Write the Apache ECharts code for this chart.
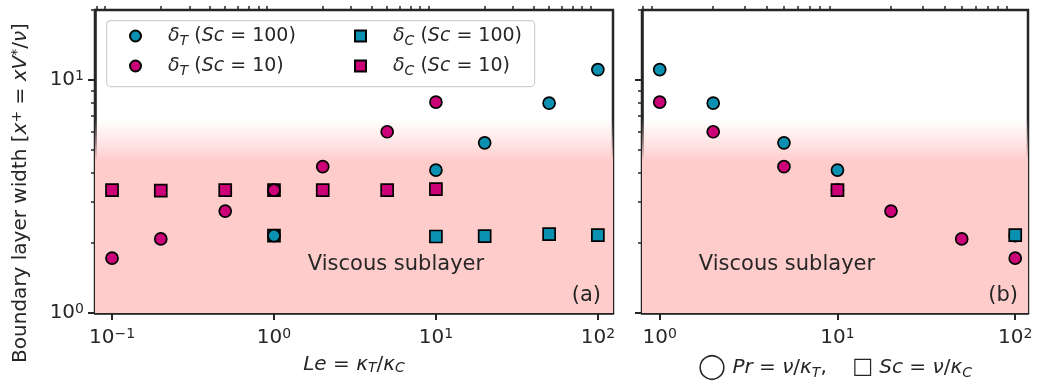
<!DOCTYPE html>
<html><head><meta charset="utf-8">
<script src="https://cdn.jsdelivr.net/npm/echarts@6/dist/echarts.min.js"></script>
<style>html,body{margin:0;padding:0;background:#fff}#c{width:1037px;height:387px}</style>
</head><body><div id="c"></div>
<script>
// ---- data ----
const leSc10 = [0.1, 0.2, 0.5, 1, 2, 5, 10];
const dTSc10 = [1.72, 2.08, 2.74, 3.37, 4.25, 6.0, 8.05];
const dCSc10 = [3.37, 3.35, 3.37, 3.37, 3.37, 3.37, 3.40];
const leSc100 = [1, 10, 20, 50, 100];
const dTSc100 = [2.15, 4.11, 5.38, 7.97, 11.1];
const dCSc100 = [2.15, 2.13, 2.14, 2.18, 2.16];
// panel (b)
const prSc100 = [1, 2, 5, 10, 100];
const dTPrSc100 = [11.1, 7.97, 5.38, 4.11, 2.15];
const prSc10 = [1, 2, 5, 10, 20, 50, 100];
const dTPrSc10 = [8.05, 6.0, 4.25, 3.37, 2.74, 2.08, 1.72];
const scValsC100 = [100];
const dCScC100 = [2.16];
const scValsC10 = [10];
const dCScC10 = [3.37];
// axes
const xaRange = [0.0785, 124];
const xbRange = [0.795, 118];
const yRange = [1, 20];
const xaMajor = [-1, 0, 1, 2];
const xbMajor = [0, 1, 2];
const yMajor = [0, 1];
const minorMult = [2, 3, 4, 5, 6, 7, 8, 9];
const subFill = 4.5, fadeTop = 6.8;

const L = Math.log10;
const FONT = 'DejaVu Sans';
const TXT = '#262626';
const MAG = '#cc0077', TEAL = '#0a90b0';
const FS = 20;
const pts = (xs, ys) => xs.map((x, i) => [L(x), L(ys[i])]);
function minorTicks(lo, hi) {
  const out = [];
  for (let d = Math.floor(L(lo)) - 1; d <= Math.ceil(L(hi)); d++)
    minorMult.forEach(m => { const v = L(m) + d; if (v >= L(lo) && v <= L(hi)) out.push(v); });
  return out;
}
const supStr = v => v < 0 ? '\u2212' + (-v) : String(v);
const powFmt = v => '{b|10}{s|' + supStr(Math.round(v)) + '}';
const tickRich = {
  b: {fontFamily: FONT, fontSize: FS, color: TXT},
  s: {fontFamily: FONT, fontSize: 14, color: TXT, verticalAlign: 'top', padding: [0, 0, 8, 0]}
};
const mathRich = {
  n: {fontFamily: FONT, fontSize: FS, color: TXT},
  i: {fontFamily: FONT, fontSize: FS, color: TXT, fontStyle: 'italic'},
  sub: {fontFamily: FONT, fontSize: 14, color: TXT, fontStyle: 'italic', verticalAlign: 'bottom', padding: [6, 0, 0, 0]},
  sup: {fontFamily: FONT, fontSize: 14, color: TXT, verticalAlign: 'top', padding: [0, 0, 8, 0]},
  big: {fontFamily: FONT, fontSize: 25, color: TXT},
  sq: {fontFamily: FONT, fontSize: 22, color: TXT}
};

function xAxes(gi, range, major, name) {
  const base = {gridIndex: gi, type: 'value', min: L(range[0]), max: L(range[1]), splitLine: {show: false}};
  return [
    Object.assign({}, base, {
      axisLine: {show: true, onZero: false, lineStyle: {color: TXT, width: 2.5}},
      axisTick: {show: true, length: 7, lineStyle: {color: TXT, width: 2}, customValues: major},
      axisLabel: {show: true, margin: 14, customValues: major, formatter: powFmt, rich: tickRich},
      name: name, nameLocation: 'middle', nameGap: 42,
      nameTextStyle: {fontFamily: FONT, fontSize: FS, color: TXT, rich: mathRich}
    }),
    Object.assign({}, base, {
      axisLine: {show: false, onZero: false},
      axisTick: {show: true, length: 4, lineStyle: {color: TXT, width: 1.5}, customValues: minorTicks(range[0], range[1])},
      axisLabel: {show: false}
    })
  ];
}
function yAxes(gi, showLabel) {
  const base = {gridIndex: gi, type: 'value', min: L(yRange[0]), max: L(yRange[1]), splitLine: {show: false}, position: 'left'};
  return [
    Object.assign({}, base, {
      axisLine: {show: true, onZero: false, lineStyle: {color: TXT, width: 2.5}},
      axisTick: {show: true, length: 7, lineStyle: {color: TXT, width: 2}, customValues: yMajor},
      axisLabel: {show: showLabel, margin: 11, customValues: yMajor, formatter: powFmt, rich: tickRich}
    }),
    Object.assign({}, base, {
      axisLine: {show: false, onZero: false},
      axisTick: {show: true, length: 4, lineStyle: {color: TXT, width: 1.5}, customValues: minorTicks(yRange[0], yRange[1])},
      axisLabel: {show: false}
    })
  ];
}

// one shaded band from the bottom up to fadeTop, solid pink below subFill, fading to white above it
const solidStart = (L(fadeTop) - L(subFill)) / (L(fadeTop) - L(yRange[0]));
const grad = new echarts.graphic.LinearGradient(0, 0, 0, 1, [
  {offset: 0, color: 'rgba(255,204,204,0)'},
  {offset: solidStart * 0.5, color: 'rgba(255,204,204,0.45)'},
  {offset: solidStart, color: 'rgba(255,204,204,1)'},
  {offset: 1, color: 'rgba(255,204,204,1)'}
]);
function bgSeries(xi, yi) {
  return {
    type: 'scatter', xAxisIndex: xi, yAxisIndex: yi, data: [], silent: true, z: 0,
    markArea: {silent: true, data: [
      [{xAxis: 'min', yAxis: L(yRange[0]), itemStyle: {color: grad}}, {xAxis: 'max', yAxis: L(fadeTop)}]
    ]}
  };
}
function sc(name, xi, yi, data, color, symbol, z) {
  return {
    name: name, type: 'scatter', xAxisIndex: xi, yAxisIndex: yi, data: data, z: z,
    symbol: symbol, symbolSize: 12,
    itemStyle: {color: color, borderColor: '#000', borderWidth: 1.7, opacity: 1},
    emphasis: {disabled: true}
  };
}

const legendNames = {
  dT100: '{i|δ}{sub|T}{n| (}{i|Sc}{n| = 100)}',
  dT10: '{i|δ}{sub|T}{n| (}{i|Sc}{n| = 10)}',
  dC100: '{i|δ}{sub|C}{n| (}{i|Sc}{n| = 100)}',
  dC10: '{i|δ}{sub|C}{n| (}{i|Sc}{n| = 10)}'
};
const legRich = Object.assign({}, mathRich, {
  n: Object.assign({}, mathRich.n, {fontSize: 19}),
  i: Object.assign({}, mathRich.i, {fontSize: 19})
});
function legend(left, names) {
  return {
    left: left, top: 24, orient: 'vertical', itemWidth: 11, itemHeight: 11, itemGap: 6, padding: 0, z: 10,
    data: names, selectedMode: false,
    formatter: n => '{pad|}' + legendNames[n],
    textStyle: {fontFamily: FONT, fontSize: 19, color: TXT, lineHeight: 24,
      rich: Object.assign({pad: {width: 22, fontSize: 19}}, legRich)}
  };
}

const option = {
  animation: false,
  backgroundColor: '#fff',
  grid: [
    {left: 95, top: 10, width: 518, height: 303, show: true, borderColor: TXT, borderWidth: 2.5, backgroundColor: 'transparent'},
    {left: 642, top: 10, width: 386, height: 303, show: true, borderColor: TXT, borderWidth: 2.5, backgroundColor: 'transparent'}
  ],
  xAxis: [].concat(
    xAxes(0, xaRange, xaMajor, '{i|Le}{n| = }{i|κ}{sub|T}{n|/}{i|κ}{sub|C}'),
    xAxes(1, xbRange, xbMajor, '{big|◯}{n| }{i|Pr}{n| = }{i|ν}{n|/}{i|κ}{sub|T}{n|,    }{sq|□}{n| }{i|Sc}{n| = }{i|ν}{n|/}{i|κ}{sub|C}')
  ),
  yAxis: [].concat(yAxes(0, true), yAxes(1, false)),
  legend: [legend(129, ['dT100', 'dT10']), legend(354, ['dC100', 'dC10'])],
  graphic: [
    {type: 'rect', left: 106, top: 20, z: 5, shape: {width: 428, height: 66, r: 4},
      style: {fill: 'rgba(255,255,255,0.85)', stroke: '#d0d0d0', lineWidth: 1.2}},
    {type: 'text', x: 21, y: 193, rotation: Math.PI / 2, z: 10,
      style: {text: '{n|Boundary layer width [}{i|x}{sup|+}{n| = }{i|xV}{sup|*}{n|/}{i|ν}{n|]}', rich: mathRich,
        align: 'center', verticalAlign: 'middle', fill: TXT}},
    {type: 'text', x: 396, y: 265, z: 10, style: {text: 'Viscous sublayer', font: '21px "DejaVu Sans"', fill: TXT, align: 'center', verticalAlign: 'middle'}},
    {type: 'text', x: 787, y: 265, z: 10, style: {text: 'Viscous sublayer', font: '21px "DejaVu Sans"', fill: TXT, align: 'center', verticalAlign: 'middle'}},
    {type: 'text', x: 601, y: 296, z: 10, style: {text: '(a)', font: '21px "DejaVu Sans"', fill: TXT, align: 'right', verticalAlign: 'middle'}},
    {type: 'text', x: 1018, y: 296, z: 10, style: {text: '(b)', font: '21px "DejaVu Sans"', fill: TXT, align: 'right', verticalAlign: 'middle'}}
  ],
  series: [
    bgSeries(0, 0),
    bgSeries(2, 2),
    sc('dC100', 0, 0, pts(leSc100, dCSc100), TEAL, 'rect', 3),
    sc('dC10', 0, 0, pts(leSc10, dCSc10), MAG, 'rect', 3),
    sc('dT100', 0, 0, pts(leSc100, dTSc100), TEAL, 'circle', 4),
    sc('dT10', 0, 0, pts(leSc10, dTSc10), MAG, 'circle', 4),
    sc('dT100', 2, 2, pts(prSc100, dTPrSc100), TEAL, 'circle', 3),
    sc('dT10', 2, 2, pts(prSc10, dTPrSc10), MAG, 'circle', 3),
    sc('dC100', 2, 2, pts(scValsC100, dCScC100), TEAL, 'rect', 4),
    sc('dC10', 2, 2, pts(scValsC10, dCScC10), MAG, 'rect', 4)
  ]
};
const chart = echarts.init(document.getElementById('c'), null, {renderer: 'canvas'});
chart.setOption(option);
</script></body></html>
